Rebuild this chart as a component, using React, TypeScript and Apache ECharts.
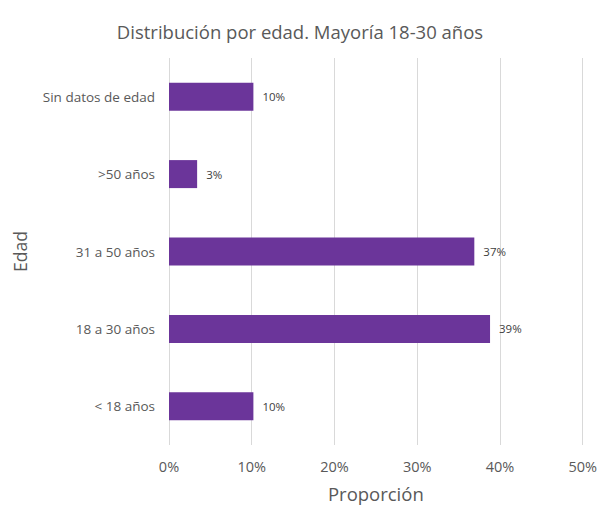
import React, { useEffect, useRef } from "react";
import * as echarts from "echarts";

const titleText = "Distribución por edad. Mayoría 18-30 años";
const categories = ["< 18 años", "18 a 30 años", "31 a 50 años", ">50 años", "Sin datos de edad"];
const values = [10.2, 38.8, 36.9, 3.4, 10.2];
const xTicks = [0, 10, 20, 30, 40, 50];
const xAxisName = "Proporción";
const yAxisName = "Edad";

export default function App() {
  const ref = useRef<HTMLDivElement>(null);
  useEffect(() => {
    if (!ref.current) return;
    const chart = echarts.init(ref.current, null, { renderer: "svg" });
    const font = "'Open Sans', sans-serif";
    chart.setOption({
      animation: false,
      backgroundColor: "#ffffff",
      textStyle: { fontFamily: font },
      title: {
        text: titleText,
        left: "center",
        top: 17,
        textStyle: { fontFamily: font, fontSize: 18.5, fontWeight: "normal", color: "#595959" },
      },
      grid: { left: 169, right: 14, top: 58, bottom: 62, containLabel: false },
      xAxis: {
        type: "value",
        min: xTicks[0],
        max: xTicks[xTicks.length - 1],
        interval: 10,
        name: xAxisName,
        nameLocation: "middle",
        nameGap: 39,
        nameTextStyle: { fontFamily: font, fontSize: 18.5, color: "#595959" },
        axisLine: { show: false },
        axisTick: { show: false },
        axisLabel: { formatter: "{value}%", fontFamily: font, fontSize: 14.5, color: "#595959", margin: 14 },
        splitLine: { show: true, lineStyle: { color: "#d9d9d9", width: 1 } },
      },
      yAxis: {
        type: "category",
        data: categories,
        name: yAxisName,
        nameLocation: "middle",
        nameGap: 140,
        nameRotate: 90,
        nameTextStyle: { fontFamily: font, fontSize: 17.5, color: "#595959" },
        axisLine: { show: false },
        axisTick: { show: false },
        axisLabel: { fontFamily: font, fontSize: 13.5, color: "#595959", margin: 14 },
        splitLine: { show: false },
      },
      series: [
        {
          type: "bar",
          data: values,
          barWidth: 28,
          itemStyle: { color: "#6B359A" },
          label: {
            show: true,
            position: "right",
            distance: 9,
            fontFamily: font,
            fontSize: 11.5,
            color: "#404040",
            formatter: (p: any) => Math.round(p.value) + "%",
          },
        },
      ],
    });
    return () => chart.dispose();
  }, []);
  return <div ref={ref} style={{ width: 600, height: 508, position: "absolute", left: 0, top: 0 }} />;
}
